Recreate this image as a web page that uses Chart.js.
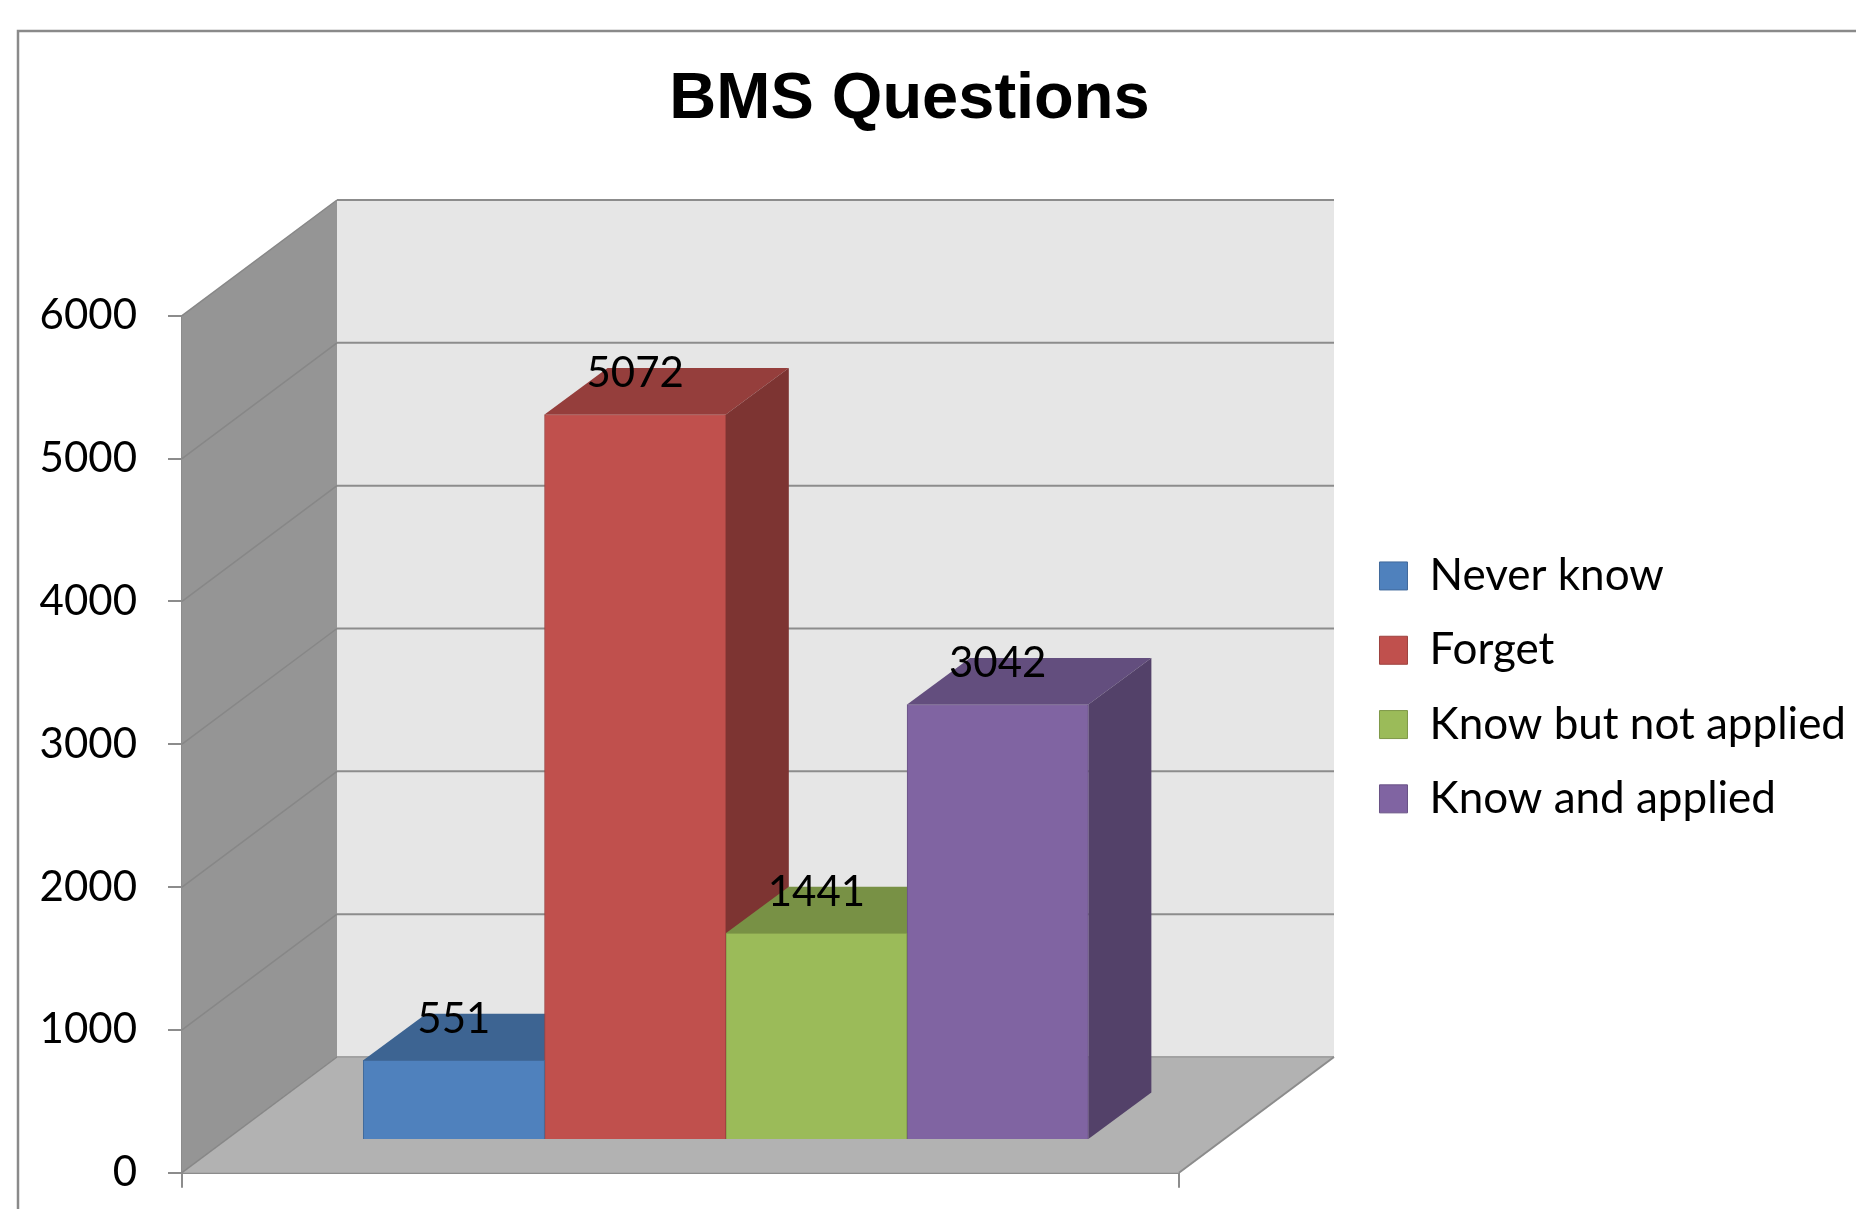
<!DOCTYPE html>
<html>
<head>
<meta charset="utf-8">
<title>BMS Questions</title>
<script src="https://cdn.jsdelivr.net/npm/chart.js@4.4.1/dist/chart.umd.min.js"></script>
<style>
  html, body { margin: 0; padding: 0; background: #fff; }
  canvas { display: block; }
</style>
</head>
<body>
<canvas id="bmsChart" width="1856" height="1209"></canvas>
<script>
// one category, four series -> four bars side by side
const seriesNames = ['Never know', 'Forget', 'Know but not applied', 'Know and applied'];
const seriesValues = [551, 5072, 1441, 3042];
const yTicks = [0, 1000, 2000, 3000, 4000, 5000, 6000];
const seriesColors = ['#4f81bd', '#c0504d', '#9bbb59', '#8064a2'];

// fake 3D geometry (pixels)
const WALL_DX = 155, WALL_DY = -115.7;   // back wall offset from the front edge
const BAR_DX = 63, BAR_DY = -46.5;       // depth of each bar
const BAR_LIFT = 236;                    // bars sit behind the front edge, in axis units
const PLOT_RIGHT = 1179;

function shade(hex, f) {
    const n = parseInt(hex.slice(1), 16);
    const r = Math.round(((n >> 16) & 255) * f);
    const g = Math.round(((n >> 8) & 255) * f);
    const b = Math.round((n & 255) * f);
    return `rgb(${r},${g},${b})`;
}

function poly(ctx, pts, fill) {
    ctx.beginPath();
    ctx.moveTo(pts[0][0], pts[0][1]);
    for (let i = 1; i < pts.length; i++) ctx.lineTo(pts[i][0], pts[i][1]);
    ctx.closePath();
    ctx.fillStyle = fill;
    ctx.fill();
}

function line(ctx, x1, y1, x2, y2, color, w) {
    ctx.beginPath();
    ctx.moveTo(x1, y1);
    ctx.lineTo(x2, y2);
    ctx.strokeStyle = color;
    ctx.lineWidth = w;
    ctx.stroke();
}

const box3d = {
    id: 'box3d',
    afterLayout(chart) {
        // title in the original sits a little left of the page centre
        chart.titleBlock.right -= 37;
    },
    beforeDraw(chart) {
        const ctx = chart.ctx;
        ctx.save();
        ctx.beginPath();
        ctx.moveTo(18, chart.height);
        ctx.lineTo(18, 31);
        ctx.lineTo(chart.width, 31);
        ctx.strokeStyle = '#8a8a8a';
        ctx.lineWidth = 2.5;
        ctx.stroke();
        ctx.restore();
    },
    beforeDatasetsDraw(chart) {
        const ctx = chart.ctx;
        const y = chart.scales.y;
        const {left, right} = chart.chartArea;
        const yTop = y.getPixelForValue(y.max);
        const yBot = y.getPixelForValue(0);
        ctx.save();

        // side wall, floor, back wall
        poly(ctx, [[left, yTop], [left + WALL_DX, yTop + WALL_DY], [left + WALL_DX, yBot + WALL_DY], [left, yBot]], '#959595');
        poly(ctx, [[left, yBot], [right, yBot], [right + WALL_DX, yBot + WALL_DY], [left + WALL_DX, yBot + WALL_DY]], '#b2b2b2');
        ctx.fillStyle = '#e6e6e6';
        ctx.fillRect(left + WALL_DX, yTop + WALL_DY, right - left, yBot - yTop);

        y.ticks.forEach(t => {
            const py = y.getPixelForValue(t.value);
            line(ctx, left, py, left + WALL_DX, py + WALL_DY, '#878787', 1.5);
            line(ctx, left + WALL_DX, py + WALL_DY, right + WALL_DX, py + WALL_DY, t.value === 0 ? '#a2a2a2' : '#8c8c8c', 2);
        });
        line(ctx, right, yBot, right + WALL_DX, yBot + WALL_DY, '#8c8c8c', 2);

        // top and side faces, left to right so the next bar covers the previous side
        chart.data.datasets.forEach((ds, i) => {
            const el = chart.getDatasetMeta(i).data[0];
            const {x, y: top, base, width} = el.getProps(['x', 'y', 'base', 'width'], true);
            const l = x - width / 2, r = x + width / 2;
            poly(ctx, [[l, top], [r, top], [r + BAR_DX, top + BAR_DY], [l + BAR_DX, top + BAR_DY]], shade(seriesColors[i], 0.775));
            poly(ctx, [[r, top], [r + BAR_DX, top + BAR_DY], [r + BAR_DX, base + BAR_DY], [r, base]], shade(seriesColors[i], 0.65));
        });
        ctx.restore();
    },
    afterDatasetsDraw(chart) {
        const ctx = chart.ctx;
        ctx.save();
        ctx.font = '42px Lato';
        ctx.fillStyle = '#000';
        ctx.textAlign = 'center';
        ctx.textBaseline = 'middle';
        chart.data.datasets.forEach((ds, i) => {
            const el = chart.getDatasetMeta(i).data[0];
            ctx.fillText(String(seriesValues[i]), el.x, el.y + BAR_DY + 5.5);
        });
        ctx.restore();
    }
};

new Chart(document.getElementById('bmsChart'), {
    type: 'bar',
    data: {
        datasets: seriesNames.map((name, i) => ({
            label: name,
            data: [{x: i, y: seriesValues[i]}],
            backgroundColor: seriesColors[i],
            borderColor: shade(seriesColors[i], 0.82),
            borderWidth: 1,
            xAxisID: 'x',
            yAxisID: 'yb',
            grouped: false,
            barPercentage: 1,
            categoryPercentage: 1
        }))
    },
    options: {
        responsive: false,
        animation: false,
        devicePixelRatio: 1,
        events: [],
        layout: { padding: 0 },
        scales: {
            x: {
                type: 'linear',
                min: -1.5,
                max: 4,
                offset: false,
                z: 1,
                afterBuildTicks: s => { s.ticks = [{value: s.min}, {value: s.max}]; },
                afterFit: s => { s.height = 36.3; },
                ticks: { display: false },
                grid: { offset: false, drawOnChartArea: false, tickLength: 15, color: '#8c8c8c', lineWidth: 2 },
                border: { color: '#8c8c8c', width: 2 }
            },
            y: {
                position: 'left',
                min: yTicks[0],
                max: yTicks[yTicks.length - 1],
                z: 1,
                afterBuildTicks: s => { s.ticks = yTicks.map(v => ({value: v})); },
                // the wide label gap would otherwise push the floor up
                afterFit: s => { s.width = 182; s.paddingTop = 0; s.paddingBottom = 0; },
                ticks: { font: { family: 'Lato', size: 42 }, color: '#000', padding: 31, callback: v => String(v) },
                grid: { drawOnChartArea: false, tickLength: 14, color: '#8c8c8c', lineWidth: 2 },
                border: { color: '#8c8c8c', width: 2 }
            },
            yb: {
                position: 'right',
                min: yTicks[0] - BAR_LIFT,
                max: yTicks[yTicks.length - 1] - BAR_LIFT,
                afterFit: s => { s.width = Math.max(0, s.chart.width - s.chart.legend.width - PLOT_RIGHT); },
                ticks: { display: false },
                grid: { display: false },
                border: { display: false }
            }
        },
        plugins: {
            tooltip: { enabled: false },
            title: {
                display: true,
                text: 'BMS Questions',
                color: '#000',
                font: { family: "'Liberation Sans', Arial, sans-serif", size: 65, weight: 'bold' },
                padding: { top: 61, bottom: 176.7 }
            },
            legend: {
                position: 'right',
                maxWidth: 700,
                title: { display: true, text: '', font: { size: 10 }, padding: { top: 0, bottom: 153.8 } },
                labels: {
                    font: { family: 'Lato', size: 44 },
                    color: '#000',
                    boxWidth: 28,
                    boxHeight: 28,
                    padding: 30.3
                }
            }
        }
    },
    plugins: [box3d]
});
</script>
</body>
</html>
